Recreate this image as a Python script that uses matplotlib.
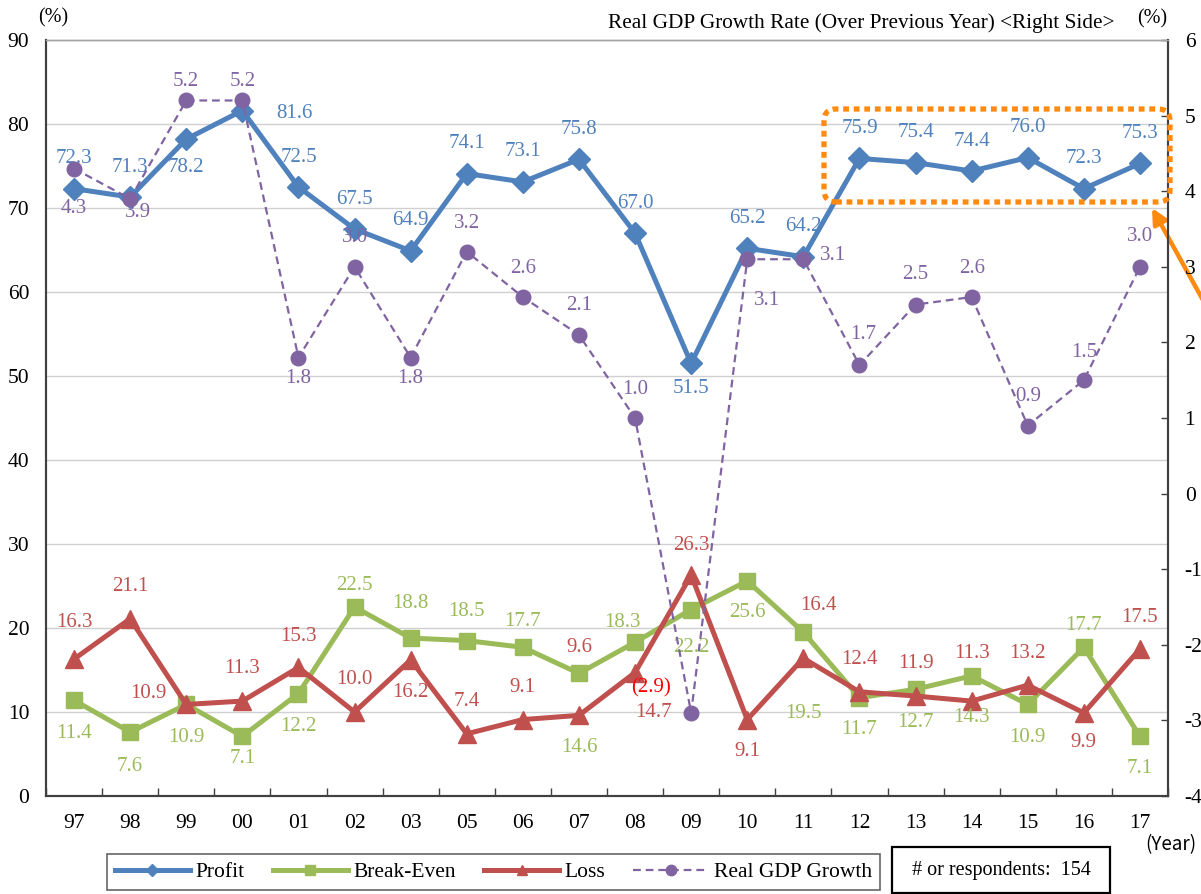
import numpy as np
import matplotlib
matplotlib.use("Agg")
import matplotlib.pyplot as plt
from matplotlib.lines import Line2D
from matplotlib.patches import FancyBboxPatch, Rectangle

plt.rcParams['font.family'] = ['Liberation Serif', 'DejaVu Serif']
plt.rcParams['axes.unicode_minus'] = False

# data
years = ['97', '98', '99', '00', '01', '02', '03', '05', '06', '07',
         '08', '09', '10', '11', '12', '13', '14', '15', '16', '17']
profit = [72.3, 71.3, 78.2, 81.6, 72.5, 67.5, 64.9, 74.1, 73.1, 75.8,
          67.0, 51.5, 65.2, 64.2, 75.9, 75.4, 74.4, 76.0, 72.3, 75.3]
break_even = [11.4, 7.6, 10.9, 7.1, 12.2, 22.5, 18.8, 18.5, 17.7, 14.6,
              18.3, 22.2, 25.6, 19.5, 11.7, 12.7, 14.3, 10.9, 17.7, 7.1]
loss = [16.3, 21.1, 10.9, 11.3, 15.3, 10.0, 16.2, 7.4, 9.1, 9.6,
        14.7, 26.3, 9.1, 16.4, 12.4, 11.9, 11.3, 13.2, 9.9, 17.5]
gdp = [4.3, 3.9, 5.2, 5.2, 1.8, 3.0, 1.8, 3.2, 2.6, 2.1,
       1.0, -2.9, 3.1, 3.1, 1.7, 2.5, 2.6, 0.9, 1.5, 3.0]
respondents = 154

# data label offsets in pixels (dx, dy)
UP, DN = (0, 30), (0, -31)
profit_off = [UP] * 20
profit_off[2] = (0, -28)
profit_off[3] = (52, -3)
profit_off[11] = (0, -25)
be_off = [(0, -33), (0, -34), (0, -33), (0, -22), (0, -33), (0, 22), (0, 35),
          (0, 29), (0, 26), (0, -74), (-13, 20), (0, -38), (0, -32), (0, -81),
          (0, -32), (0, -33), (0, -42), (0, -33), (0, 22), (0, -32)]
loss_off = [(0, 37), (0, 32), (-38, 11), (0, 33), (0, 31), (0, 32), (0, -33),
            (0, 32), (0, 32), (0, 68), (18, -40), (0, 30), (0, -32), (15, 53),
            (0, 32), (0, 33), (0, 48), (0, 32), (0, -30), (0, 32)]
gdp_off = [(0, -40), (8, -14), (0, 19), (0, 19), (0, -21), (0, 29), (0, -21),
           (0, 28), (0, 29), (0, 29), (0, 29), (-40, 25), (20, -41), (30, 4),
           (4, 31), (0, 30), (0, 29), (0, 29), (0, 28), (0, 30)]

c_profit = '#4F81BD'
c_be = '#9BBB59'
c_loss = '#C0504D'
c_gdp = '#8064A2'
c_orange = '#FF8A10'

W, H = 1201, 894
fig = plt.figure(figsize=(W / 100, H / 100), dpi=100)
ax = fig.add_axes([46 / W, 1 - 796 / H, (1168 - 46) / W, (796 - 40) / H])
ax2 = ax.twinx()

x = np.arange(len(years))

ax.plot(x, profit, color=c_profit, lw=3.6, marker='D', ms=11, zorder=4)
ax.plot(x, break_even, color=c_be, lw=3.6, marker='s', ms=12, zorder=3)
ax.plot(x, loss, color=c_loss, lw=3.6, marker='^', ms=13, zorder=3)
ax2.plot(x, gdp, color=c_gdp, lw=1.6, ls=(0, (3.5, 2.2)), marker='o', ms=10.5,
         zorder=5)

lab_fs = 15


def put_labels(axis, vals, offs, color):
    for i, (v, off) in enumerate(zip(vals, offs)):
        col = color
        if v < 0:
            txt = '({:.1f})'.format(-v)
            col = '#FF0000'
        else:
            txt = '{:.1f}'.format(v)
        axis.annotate(txt, (i, v), xytext=off, textcoords='offset pixels',
                      ha='center', va='center', color=col, fontsize=lab_fs,
                      zorder=6)


put_labels(ax, profit, profit_off, c_profit)
put_labels(ax, break_even, be_off, c_be)
put_labels(ax, loss, loss_off, c_loss)
put_labels(ax2, gdp, gdp_off, c_gdp)

ax.set_xlim(-0.5, len(years) - 0.5)
ax.set_ylim(0, 90)
ax2.set_ylim(-4, 6)

ax.set_yticks(range(0, 91, 10))
ax.tick_params(axis='y', length=0, pad=12, labelsize=15.5)
ax.set_xticks(x)
ax.set_xticklabels(years)
ax.set_xticks(np.arange(-0.5, len(years), 1), minor=True)
ax.tick_params(axis='x', which='major', length=0, pad=13, labelsize=15.5)
ax.tick_params(axis='x', which='minor', direction='in', length=6, width=1,
               color='#404040')
ax2.set_yticks(range(-4, 7))
ax2.tick_params(axis='y', direction='in', length=5, width=1, pad=12,
                labelsize=15.5, color='#404040')

ax.yaxis.grid(True, color='#D0D0D0', lw=1)
ax.set_axisbelow(True)
for a in (ax, ax2):
    for s in ('left', 'bottom', 'right'):
        a.spines[s].set_color('#404040')
        a.spines[s].set_linewidth(1.5)
    a.spines['top'].set_color('#A6A6A6')
    a.spines['top'].set_linewidth(1)

# header texts
fig.text(53 / W, 1 - 18 / H, '(%)', ha='center', va='center', fontsize=14.5)
fig.text(1152 / W, 1 - 19 / H, '(%)', ha='center', va='center', fontsize=14.5)
fig.text(1114 / W, 1 - 23 / H,
         'Real GDP Growth Rate (Over Previous Year) <Right Side>',
         ha='right', va='center', fontsize=15.3)
fig.text(1145 / W, 1 - 845 / H, '(Year)', ha='left', va='center', fontsize=13.5,
         family=['Noto Sans CJK JP', 'DejaVu Sans'])

# highlight box around recent profit values
box = FancyBboxPatch((824, H - 202), 346, 93,
                     boxstyle='round,pad=0,rounding_size=12',
                     transform=None, fill=False, edgecolor=c_orange, lw=3.8,
                     ls=(0, (1.1, 0.9)), zorder=10)
fig.patches.append(box)
ax.annotate('', xy=(1152, H - 208), xycoords='figure pixels',
            xytext=(1214, H - 320), textcoords='figure pixels',
            arrowprops=dict(arrowstyle='-|>,head_length=0.9,head_width=0.45',
                            color=c_orange, lw=3.2, shrinkA=0, shrinkB=0),
            annotation_clip=False)

# legend
handles = [
    Line2D([], [], color=c_profit, lw=3.6, marker='D', ms=6.5),
    Line2D([], [], color=c_be, lw=3.6, marker='s', ms=7.5),
    Line2D([], [], color=c_loss, lw=3.6, marker='^', ms=7.5),
    Line2D([], [], color=c_gdp, lw=1.6, ls=(0, (3.5, 2.2)), marker='o', ms=7.5),
]
leg = fig.legend(handles, ['Profit', 'Break-Even', 'Loss', 'Real GDP Growth'],
                 loc='center', bbox_to_anchor=(493.5 / W, 1 - 872 / H),
                 ncol=4, fontsize=15.5, frameon=True, fancybox=False,
                 edgecolor='#404040', handlelength=3.5, handletextpad=0.25,
                 columnspacing=1.3, borderpad=0.35)
leg.get_frame().set_linewidth(1.2)

fig.patches.append(Rectangle((892, H - 893), 218, 46, transform=None,
                             fill=False, edgecolor='black', lw=1.6))
fig.text(1001 / W, 1 - 870 / H, '# or respondents:  {}'.format(respondents),
         ha='center', va='center', fontsize=14.5)

fig.savefig('out.png', dpi=100)
